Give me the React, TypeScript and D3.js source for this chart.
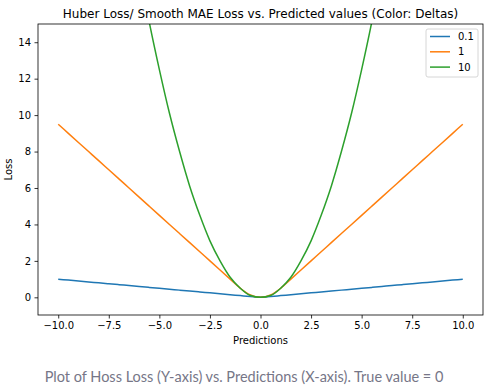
import React, { useEffect, useRef } from 'react'
import * as d3 from 'd3'

// predictions (x) and huber loss per delta
const predictions = [
  -10, -9.5, -9, -8.5, -8, -7.5, -7, -6.5, -6, -5.5, -5, -4.5, -4, -3.5, -3, -2.5, -2, -1.5, -1, -0.5,
  0, 0.5, 1, 1.5, 2, 2.5, 3, 3.5, 4, 4.5, 5, 5.5, 6, 6.5, 7, 7.5, 8, 8.5, 9, 9.5, 10,
]
const lossDelta01 = [
  0.995, 0.945, 0.895, 0.845, 0.795, 0.745, 0.695, 0.645, 0.595, 0.545, 0.495, 0.445, 0.395, 0.345,
  0.295, 0.245, 0.195, 0.145, 0.095, 0.045, 0, 0.045, 0.095, 0.145, 0.195, 0.245, 0.295, 0.345, 0.395,
  0.445, 0.495, 0.545, 0.595, 0.645, 0.695, 0.745, 0.795, 0.845, 0.895, 0.945, 0.995,
]
const lossDelta1 = [
  9.5, 9, 8.5, 8, 7.5, 7, 6.5, 6, 5.5, 5, 4.5, 4, 3.5, 3, 2.5, 2, 1.5, 1, 0.5, 0.125, 0, 0.125, 0.5, 1,
  1.5, 2, 2.5, 3, 3.5, 4, 4.5, 5, 5.5, 6, 6.5, 7, 7.5, 8, 8.5, 9, 9.5,
]
const lossDelta10 = [
  50, 45.1, 40.5, 36.1, 32, 28.1, 24.5, 21.1, 18, 15.1, 12.5, 10.1, 8, 6.1, 4.5, 3.1, 2, 1.1, 0.5, 0.1,
  0, 0.1, 0.5, 1.1, 2, 3.1, 4.5, 6.1, 8, 10.1, 12.5, 15.1, 18, 21.1, 24.5, 28.1, 32, 36.1, 40.5, 45.1, 50,
]
const deltas = ['0.1', '1', '10']
const colors = ['#1f77b4', '#ff7f0e', '#2ca02c']
const xTicks = [-10, -7.5, -5, -2.5, 0, 2.5, 5, 7.5, 10]
const yTicks = [0, 2, 4, 6, 8, 10, 12, 14]

const App = () => {
  const svgRef = useRef<SVGSVGElement>(null)

  useEffect(() => {
    const svg = d3.select(svgRef.current)
    svg.selectAll('*').remove()
    const width = 494
    const height = 387
    const margin = { top: 24, right: 11, bottom: 72, left: 38 }
    const font = 'DejaVu Sans, sans-serif'

    svg.attr('width', width).attr('height', height).style('background', '#fff')

    const x = d3.scaleLinear().domain([-11, 11]).range([margin.left, width - margin.right])
    const y = d3.scaleLinear().domain([-0.97, 15]).range([height - margin.bottom, margin.top])

    svg
      .append('clipPath')
      .attr('id', 'plot-clip')
      .append('rect')
      .attr('x', margin.left)
      .attr('y', margin.top)
      .attr('width', width - margin.left - margin.right)
      .attr('height', height - margin.top - margin.bottom)

    const series = [lossDelta01, lossDelta1, lossDelta10]
    const line = d3
      .line<number>()
      .x((_, i) => x(predictions[i]))
      .y((d) => y(d))
      .curve(d3.curveMonotoneX)

    const lines = svg.append('g').attr('clip-path', 'url(#plot-clip)')
    series.forEach((s, i) => {
      lines
        .append('path')
        .datum(s)
        .attr('d', line)
        .attr('fill', 'none')
        .attr('stroke', colors[i])
        .attr('stroke-width', 1.5)
    })

    const fmtX = (d: number) => d.toFixed(1).replace('-', '\u2212')

    const xAxis = svg
      .append('g')
      .attr('transform', `translate(0, ${height - margin.bottom})`)
      .call(d3.axisBottom(x).tickValues(xTicks).tickFormat((d) => fmtX(d as number)).tickSizeOuter(0).tickSize(3.5).tickPadding(3.5))
    const yAxis = svg
      .append('g')
      .attr('transform', `translate(${margin.left}, 0)`)
      .call(d3.axisLeft(y).tickValues(yTicks).tickSizeOuter(0).tickSize(3.5).tickPadding(3.5))

    ;[xAxis, yAxis].forEach((a) => {
      a.select('.domain').remove()
      a.selectAll('text').attr('font-family', font).attr('font-size', 10).attr('fill', '#000')
      a.selectAll('line').attr('stroke', '#000').attr('stroke-width', 0.8)
    })

    svg
      .append('rect')
      .attr('x', margin.left)
      .attr('y', margin.top)
      .attr('width', width - margin.left - margin.right)
      .attr('height', height - margin.top - margin.bottom)
      .attr('fill', 'none')
      .attr('stroke', '#000')
      .attr('stroke-width', 0.8)

    const cx = (margin.left + width - margin.right) / 2
    svg
      .append('text')
      .attr('x', cx)
      .attr('y', 18)
      .attr('text-anchor', 'middle')
      .attr('font-family', font)
      .attr('font-size', 12)
      .text('Huber Loss/ Smooth MAE Loss vs. Predicted values (Color: Deltas)')

    svg
      .append('text')
      .attr('x', cx)
      .attr('y', 344)
      .attr('text-anchor', 'middle')
      .attr('font-family', font)
      .attr('font-size', 10)
      .text('Predictions')

    svg
      .append('text')
      .attr('transform', `translate(12, ${(margin.top + height - margin.bottom) / 2}) rotate(-90)`)
      .attr('text-anchor', 'middle')
      .attr('font-family', font)
      .attr('font-size', 10)
      .text('Loss')

    // legend
    const lg = svg.append('g').attr('transform', 'translate(426, 29)')
    lg.append('rect')
      .attr('width', 52)
      .attr('height', 48)
      .attr('rx', 2)
      .attr('fill', '#fff')
      .attr('fill-opacity', 0.8)
      .attr('stroke', '#ccc')
      .attr('stroke-width', 0.8)
    deltas.forEach((d, i) => {
      const ry = 7.5 + i * 15.3
      lg.append('line')
        .attr('x1', 4)
        .attr('x2', 24)
        .attr('y1', ry)
        .attr('y2', ry)
        .attr('stroke', colors[i])
        .attr('stroke-width', 1.5)
      lg.append('text')
        .attr('x', 32)
        .attr('y', ry + 3.5)
        .attr('font-family', font)
        .attr('font-size', 10)
        .text(d)
    })

    svg
      .append('text')
      .attr('x', 244)
      .attr('y', 382)
      .attr('text-anchor', 'middle')
      .attr('font-family', 'Lato, sans-serif')
      .attr('font-size', 14.5)
      .attr('fill', '#767687')
      .text('Plot of Hoss Loss (Y-axis) vs. Predictions (X-axis). True value = 0')
  }, [])

  return <svg ref={svgRef} style={{ position: 'absolute', left: 0, top: 0, display: 'block' }}></svg>
}

export default App
